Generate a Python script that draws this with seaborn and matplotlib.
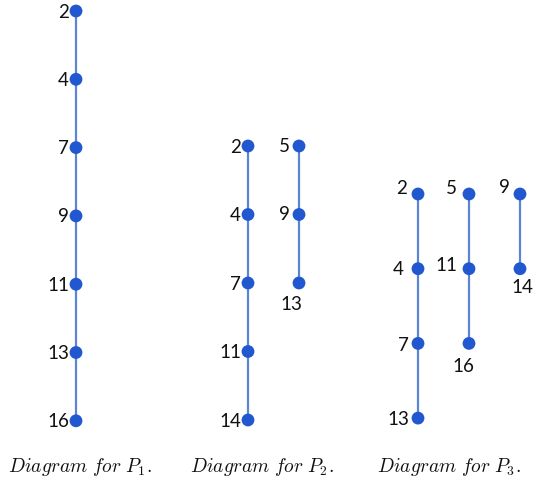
import matplotlib
matplotlib.use("Agg")
import matplotlib.pyplot as plt
import seaborn as sns
import pandas as pd

# Hasse diagrams: each chain is a list of elements, top to bottom
diagram_names = ["P_1", "P_2", "P_3"]
chains_p1 = [[2, 4, 7, 9, 11, 13, 16]]
chains_p2 = [[2, 4, 7, 11, 14], [5, 9, 13]]
chains_p3 = [[2, 4, 7, 13], [5, 11, 16], [9, 14]]
all_chains = [chains_p1, chains_p2, chains_p3]

# layout (pixels)
base_x = [76, 248, 418]
chain_gap = [0, 51, 51]
top_y = [11, 146, 194]
step_y = [68.3, 68.5, 74.7]
caption_x = [80, 262, 449]

# label offsets (side, dx, dy) per chain element
label_pos = [
    [[("l", -7, 1)] * 7],
    [[("l", -7, 1)] * 5,
     [("l", -9, 0), ("l", -9, 0), ("b", -8, 21)]],
    [[("l", -11, -6), ("l", -14, 1), ("l", -9, 2), ("l", -9, 1)],
     [("l", -12, -6), ("l", -12, -3), ("b", -6, 23)],
     [("l", -10, -7), ("b", 2, 19)]],
]

rows = []
for d, chains in enumerate(all_chains):
    for c, chain in enumerate(chains):
        for lvl, el in enumerate(chain):
            side, dx, dy = label_pos[d][c][lvl]
            rows.append(dict(diagram=d, chain=f"{d}-{c}", element=el,
                             x=base_x[d] + c * chain_gap[d],
                             y=top_y[d] + lvl * step_y[d],
                             side=side, dx=dx, dy=dy))
df = pd.DataFrame(rows)

sns.set_style("white")
plt.rcParams["mathtext.fontset"] = "cm"

fig = plt.figure(figsize=(5.42, 4.86), dpi=100)
ax = fig.add_axes([0, 0, 1, 1])

line_color = "#5a85d4"
dot_color = "#2158cf"
for key, g in df.groupby("chain"):
    sns.lineplot(data=g, x="x", y="y", ax=ax, color=line_color, lw=1.6,
                 sort=False, estimator=None, legend=False)
sns.scatterplot(data=df, x="x", y="y", ax=ax, color=dot_color, s=85,
                edgecolor="none", zorder=3, legend=False)

for _, r in df.iterrows():
    ha = "right" if r.side == "l" else "center"
    ax.annotate(str(r.element), (r.x, r.y), xytext=(r.dx, -r.dy),
                textcoords="offset pixels", ha=ha, va="center",
                fontsize=13.5, family="Lato", color="#111111")

for d, name in enumerate(diagram_names):
    ax.text(caption_x[d], 467, rf"$Diagram\ for\ {name}.$", ha="center",
            va="center", fontsize=14, color="#111111")

ax.set_xlim(0, 542)
ax.set_ylim(486, 0)
ax.axis("off")
fig.savefig("out.png", dpi=100)
